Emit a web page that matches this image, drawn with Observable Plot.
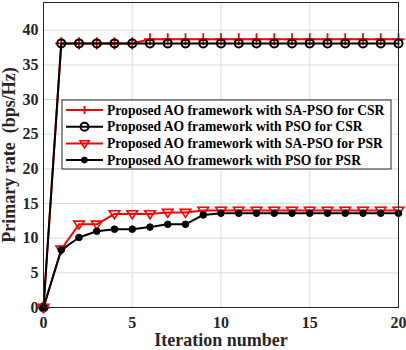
<!DOCTYPE html>
<html><head><meta charset="utf-8">
<script src="https://cdn.jsdelivr.net/npm/d3@7"></script>
<script src="https://cdn.jsdelivr.net/npm/@observablehq/plot@0.6"></script>
<style>body{margin:0;background:#fff;} svg{font-family:"Liberation Serif","Times New Roman",serif;}</style>
</head><body><div id="chart"></div>
<script>
const iterations = [0,1,2,3,4,5,6,7,8,9,10,11,12,13,14,15,16,17,18,19,20];
const saPsoCSR = [0,38.1,38.1,38.1,38.1,38.1,38.7,38.7,38.7,38.7,38.7,38.7,38.7,38.7,38.7,38.7,38.7,38.7,38.7,38.7,38.7];
const psoCSR   = [0,38.1,38.1,38.1,38.1,38.1,38.1,38.1,38.1,38.1,38.1,38.1,38.1,38.1,38.1,38.1,38.1,38.1,38.1,38.1,38.1];
const saPsoPSR = [0,8.4,12.0,12.0,13.5,13.5,13.5,13.7,13.7,14.0,14.0,14.0,14.0,14.0,14.0,14.0,14.0,14.0,14.0,14.0,14.0];
const psoPSR   = [0,8.3,10.1,11.0,11.3,11.3,11.6,12.0,12.0,13.35,13.6,13.6,13.6,13.6,13.6,13.6,13.6,13.6,13.6,13.6,13.6];
const seriesNames = [
  "Proposed AO framework with SA-PSO for CSR",
  "Proposed AO framework with PSO for CSR",
  "Proposed AO framework with SA-PSO for PSR",
  "Proposed AO framework with PSO for PSR"
];
const xTicks = [0,5,10,15,20];
const yTicks = [0,5,10,15,20,25,30,35,40];

const mk = vals => iterations.map((x,i)=>({x, y: vals[i]}));
const d1 = mk(saPsoCSR), d2 = mk(psoCSR), d3s = mk(saPsoPSR), d4 = mk(psoPSR);

const triDown = {draw(ctx, size){ const s = Math.sqrt(size)*0.75; ctx.moveTo(-s, -s*0.6); ctx.lineTo(s, -s*0.6); ctx.lineTo(0, s*0.9); ctx.closePath(); }};

const plot = Plot.plot({
  width: 406, height: 350,
  marginLeft: 43, marginRight: 8, marginTop: 2, marginBottom: 43,
  style: {fontFamily: '"Liberation Serif","Times New Roman",serif', fontSize: "16px", fontWeight: "bold", color: "#262626", background: "#fff"},
  x: {domain: [0,20], ticks: xTicks, label: null},
  y: {domain: [0,44], ticks: yTicks, label: null},
  marks: [
    Plot.gridX(xTicks, {stroke: "#dcdcdc", strokeOpacity: 1}),
    Plot.gridY(yTicks, {stroke: "#dcdcdc", strokeOpacity: 1}),
    Plot.axisX({ticks: xTicks, tickSize: 0, tickPadding: 9, fontSize: 16, fontWeight: "bold", label: null}),
    Plot.axisY({ticks: yTicks, tickSize: 0, tickPadding: 5, fontSize: 16, fontWeight: "bold", label: null}),
    Plot.line(d1, {x: "x", y: "y", stroke: "#ff0000", strokeWidth: 2}),
    Plot.dot(d1, {x: "x", y: "y", symbol: "plus", r: 4, stroke: "#ff0000", strokeWidth: 1.8}),
    Plot.line(d2, {x: "x", y: "y", stroke: "#000", strokeWidth: 2}),
    Plot.dot(d2, {x: "x", y: "y", symbol: "circle", r: 4, stroke: "#000", fill: "none", strokeWidth: 2}),
    Plot.line(d3s, {x: "x", y: "y", stroke: "#ff0000", strokeWidth: 2}),
    Plot.dot(d3s, {x: "x", y: "y", symbol: triDown, r: 4, stroke: "#ff0000", fill: "none", strokeWidth: 1.6}),
    Plot.line(d4, {x: "x", y: "y", stroke: "#000", strokeWidth: 2}),
    Plot.dot(d4, {x: "x", y: "y", symbol: "circle", r: 3.3, fill: "#000", stroke: "#000", strokeWidth: 1}),
    Plot.frame({stroke: "#262626", strokeWidth: 1}),
    Plot.text(["Iteration number"], {frameAnchor: "bottom", textAnchor: "middle", lineAnchor: "top", dy: 26, fontSize: 18, fontWeight: "bold", fill: "#262626"}),
    Plot.text(["Primary rate\u00a0 (bps/Hz)"], {frameAnchor: "left", textAnchor: "middle", lineAnchor: "middle", dx: -34, rotate: -90, fontSize: 18, fontWeight: "bold", fill: "#262626"})
  ]
});

// Legend (layout element, drawn in pixel space)
const svg = d3.select(plot);
const lg = svg.append("g").attr("font-size", 13.6).attr("font-weight", "bold").attr("fill", "#000").attr("text-anchor", "start");
lg.append("rect").attr("x", 62).attr("y", 100).attr("width", 329).attr("height", 69).attr("fill", "#fff").attr("stroke", "#262626").attr("stroke-width", 1);
const styles = [
  {color: "#ff0000", sym: "plus"},
  {color: "#000", sym: "circle"},
  {color: "#ff0000", sym: "tri"},
  {color: "#000", sym: "dot"}
];
seriesNames.forEach((name, i) => {
  const y = 110 + i*16.7;
  const st = styles[i];
  lg.append("line").attr("x1", 66).attr("x2", 103).attr("y1", y).attr("y2", y).attr("stroke", st.color).attr("stroke-width", 2);
  const cx = 84.5;
  if (st.sym === "plus") {
    lg.append("path").attr("d", `M${cx-4},${y}H${cx+4}M${cx},${y-4}V${y+4}`).attr("stroke", st.color).attr("stroke-width", 1.8);
  } else if (st.sym === "circle") {
    lg.append("circle").attr("cx", cx).attr("cy", y).attr("r", 4).attr("fill", "none").attr("stroke", st.color).attr("stroke-width", 2);
  } else if (st.sym === "tri") {
    lg.append("path").attr("d", `M${cx-4.5},${y-2.7}L${cx+4.5},${y-2.7}L${cx},${y+4.5}Z`).attr("fill", "none").attr("stroke", st.color).attr("stroke-width", 1.6);
  } else {
    lg.append("circle").attr("cx", cx).attr("cy", y).attr("r", 3.3).attr("fill", st.color);
  }
  lg.append("text").attr("x", 107).attr("y", y).attr("dy", "0.35em").attr("text-anchor", "start").text(name);
});

document.getElementById("chart").appendChild(plot);
</script>
</body></html>
